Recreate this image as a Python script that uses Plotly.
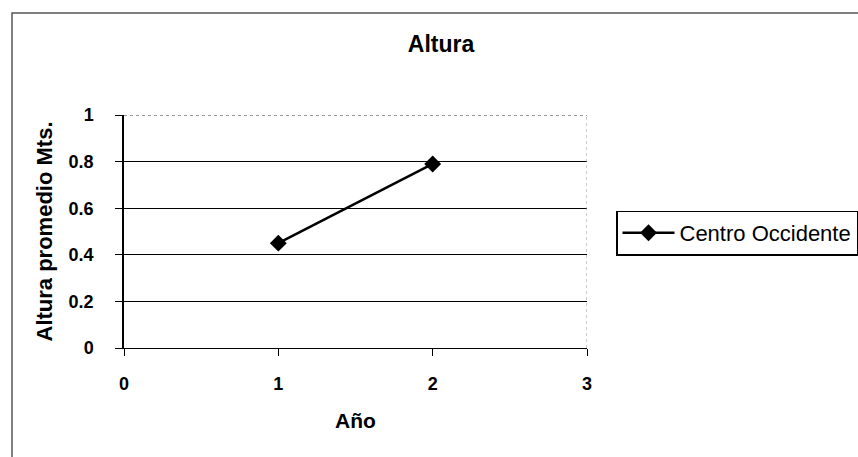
import plotly.graph_objects as go

years = [1, 2]
heights = [0.45, 0.79]
series_name = "Centro Occidente"
title_text = "Altura"
x_title = "Año"
y_title = "Altura promedio Mts."
x_ticks = [0, 1, 2, 3]
y_ticks = [0, 0.2, 0.4, 0.6, 0.8, 1]
y_ticklabels = ["0", "0.2", "0.4", "0.6", "0.8", "1"]

FONT = "Liberation Sans, Arial, sans-serif"

fig = go.Figure()
fig.add_trace(go.Scatter(
    x=years, y=heights, name=series_name, mode="lines+markers",
    line=dict(color="black", width=2.5),
    marker=dict(symbol="diamond", size=13, color="black"),
))

L, R, T, B = 124, 587, 115, 348
W, H = 858, 457

fig.update_layout(
    width=W, height=H,
    margin=dict(l=L, r=W - R, t=T, b=H - B, autoexpand=False),
    paper_bgcolor="white", plot_bgcolor="white",
    font=dict(family=FONT, color="black", size=18),
    title=dict(text="<b>" + title_text + "</b>", x=441 / W, xref="container", xanchor="center",
               y=1 - 44 / H, yref="container", yanchor="middle",
               font=dict(size=23, family=FONT, color="black")),
    showlegend=True,
    legend=dict(x=(616 - L) / (R - L), xanchor="left", y=(B - 233) / (B - T), yanchor="middle",
                bordercolor="black", borderwidth=1.5, bgcolor="white",
                font=dict(size=22, family=FONT, color="black"), itemwidth=52),
    xaxis=dict(range=[0, 3], tickvals=x_ticks, ticktext=["<b>%s</b>" % v for v in x_ticks],
               showgrid=False, zeroline=False, showline=True, linecolor="black", linewidth=1,
               ticks="outside", ticklen=7, tickcolor="black", ticklabelstandoff=12,
               tickfont=dict(size=18, family=FONT, color="black"),
               title=dict(text="<b>" + x_title + "</b>", standoff=20,
                          font=dict(size=21, family=FONT, color="black"))),
    yaxis=dict(range=[0, 1], tickvals=y_ticks, ticktext=["<b>%s</b>" % t for t in y_ticklabels],
               showgrid=True, gridcolor="black", gridwidth=1, zeroline=False,
               showline=True, linecolor="black", linewidth=1.5,
               ticks="outside", ticklen=7, tickcolor="black", ticklabelstandoff=18,
               tickfont=dict(size=18, family=FONT, color="black"),
               title=dict(text="<b>" + y_title + "</b>", standoff=10,
                          font=dict(size=22, family=FONT, color="black"))),
)

# top edge and right border of plot area, and outer chart border
fig.add_shape(type="line", xref="x", yref="y", x0=0, x1=3, y0=1, y1=1,
              line=dict(color="#333333", width=1, dash="dot"))
fig.add_shape(type="line", xref="x", yref="y", x0=3, x1=3, y0=0, y1=1,
              line=dict(color="#999999", width=1, dash="dot"))
fig.add_shape(type="rect", xref="paper", yref="paper",
              x0=(12 - L) / (R - L), x1=2.5, y0=-1.0, y1=(B - 13) / (B - T),
              line=dict(color="#555555", width=1.5), layer="below")

fig.write_html("out.html")
